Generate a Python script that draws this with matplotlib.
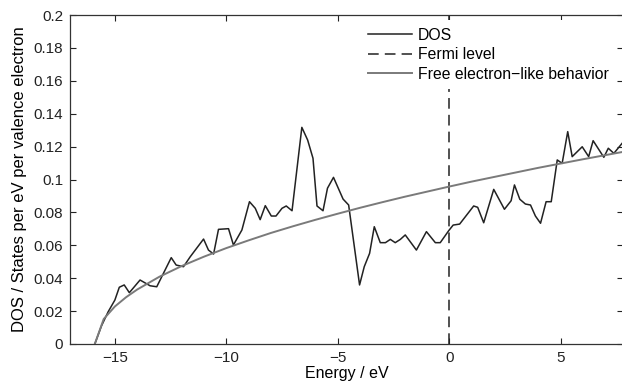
import matplotlib
matplotlib.use('Agg')
import matplotlib.pyplot as plt

plt.rcParams['font.family'] = ['Liberation Sans', 'DejaVu Sans']

# DOS curve (energy in eV, states per eV per valence electron)
dos_energy = [-15.9, -15.6, -15.3, -15.0, -14.8, -14.58, -14.35, -13.87, -13.42, -13.12,
              -12.47, -12.25, -11.92, -11.62, -11.02, -10.80, -10.57, -10.35, -9.90, -9.68,
              -9.30, -8.96, -8.70, -8.48, -8.25, -7.98, -7.77, -7.50, -7.31, -7.05,
              -6.61, -6.35, -6.11, -5.93, -5.66, -5.46, -5.19, -4.76, -4.51, -4.02,
              -3.81, -3.57, -3.36, -3.09, -2.86, -2.64, -2.42, -2.19, -1.97, -1.47,
              -1.02, -0.62, -0.40, -0.02, 0.18, 0.47, 1.10, 1.28, 1.55, 2.00,
              2.48, 2.78, 2.93, 3.17, 3.42, 3.65, 3.87, 4.10, 4.35, 4.58,
              4.85, 5.07, 5.32, 5.52, 5.97, 6.26, 6.46, 6.94, 7.14, 7.39, 7.76]
dos_values = [0.0, 0.011, 0.0196, 0.0267, 0.0345, 0.0359, 0.0312, 0.0389, 0.0354, 0.0348,
              0.0525, 0.048, 0.047, 0.053, 0.0638, 0.0571, 0.0547, 0.0697, 0.0701, 0.0602,
              0.0693, 0.0865, 0.0825, 0.0756, 0.0841, 0.0778, 0.0778, 0.0825, 0.0839, 0.081,
              0.1317, 0.124, 0.1129, 0.0839, 0.081, 0.0947, 0.1013, 0.0881, 0.0845, 0.0359,
              0.047, 0.0551, 0.0713, 0.0616, 0.0616, 0.0636, 0.0616, 0.0636, 0.0663, 0.0571,
              0.0683, 0.0616, 0.0616, 0.0689, 0.0723, 0.0729, 0.0839, 0.0831, 0.0737, 0.094,
              0.0819, 0.0871, 0.0967, 0.088, 0.0851, 0.0845, 0.0778, 0.0734, 0.0865, 0.0865,
              0.1119, 0.1098, 0.1291, 0.1139, 0.1199, 0.1139, 0.1236, 0.1135, 0.119, 0.1159, 0.122]

# free electron-like curve
free_energy = [-15.9, -15.5, -15.0, -14.5, -14.0, -13.0, -12.0, -11.0, -10.0, -9.0,
               -8.0, -7.0, -6.0, -5.0, -4.0, -3.0, -2.0, -1.0, 0.0, 1.0,
               2.0, 3.0, 4.0, 5.0, 6.0, 7.0, 7.8]
free_values = [0.0, 0.0152, 0.0228, 0.0284, 0.0331, 0.0409, 0.0474, 0.0531, 0.0583, 0.063,
               0.0675, 0.0716, 0.0755, 0.0792, 0.0828, 0.0862, 0.0895, 0.0926, 0.0957, 0.0987,
               0.1015, 0.1043, 0.1071, 0.1097, 0.1123, 0.1148, 0.1168]

fermi_energy = 0.0

x_ticks = [-15, -10, -5, 0, 5]
y_ticks = [0, 0.02, 0.04, 0.06, 0.08, 0.1, 0.12, 0.14, 0.16, 0.18, 0.2]
y_tick_labels = ['0', '0.02', '0.04', '0.06', '0.08', '0.1', '0.12', '0.14', '0.16', '0.18', '0.2']

fig = plt.figure(figsize=(6.22, 3.85), dpi=100)
ax = fig.add_axes([0.113, 0.1065, 0.8886, 0.8545])

ax.plot(dos_energy, dos_values, color='#222222', lw=1.1, label='DOS')
ax.plot([fermi_energy, fermi_energy], [0, 0.2], color='#222222', lw=1.1,
        linestyle=(0, (7, 4)), label='Fermi level')
ax.plot(free_energy, free_values, color='#7a7a7a', lw=1.4, label='Free electron\u2212like behavior')

ax.set_xlim(-17, 7.8)
ax.set_ylim(0, 0.2)
ax.set_xticks(x_ticks)
ax.set_yticks(y_ticks)
ax.set_yticklabels(y_tick_labels)
ax.tick_params(direction='in', length=4, width=0.8, top=True, right=True,
               labelsize=11, colors='#222222', pad=5)
for sp in ax.spines.values():
    sp.set_color('#333333')
    sp.set_linewidth(0.9)

ax.set_xlabel('Energy / eV', fontsize=11.5, labelpad=1)
ax.set_ylabel('DOS / States per eV per valence electron', fontsize=12, labelpad=5)

leg = ax.legend(loc='upper left', bbox_to_anchor=(0.525, 0.985), fontsize=11.3,
                handlelength=2.8, handletextpad=0.35, labelspacing=0.28,
                borderpad=0.5, borderaxespad=0, frameon=True, fancybox=False)
leg.get_frame().set_facecolor('white')
leg.get_frame().set_edgecolor('none')
leg.get_frame().set_alpha(1)

fig.savefig('out.png', dpi=100)
